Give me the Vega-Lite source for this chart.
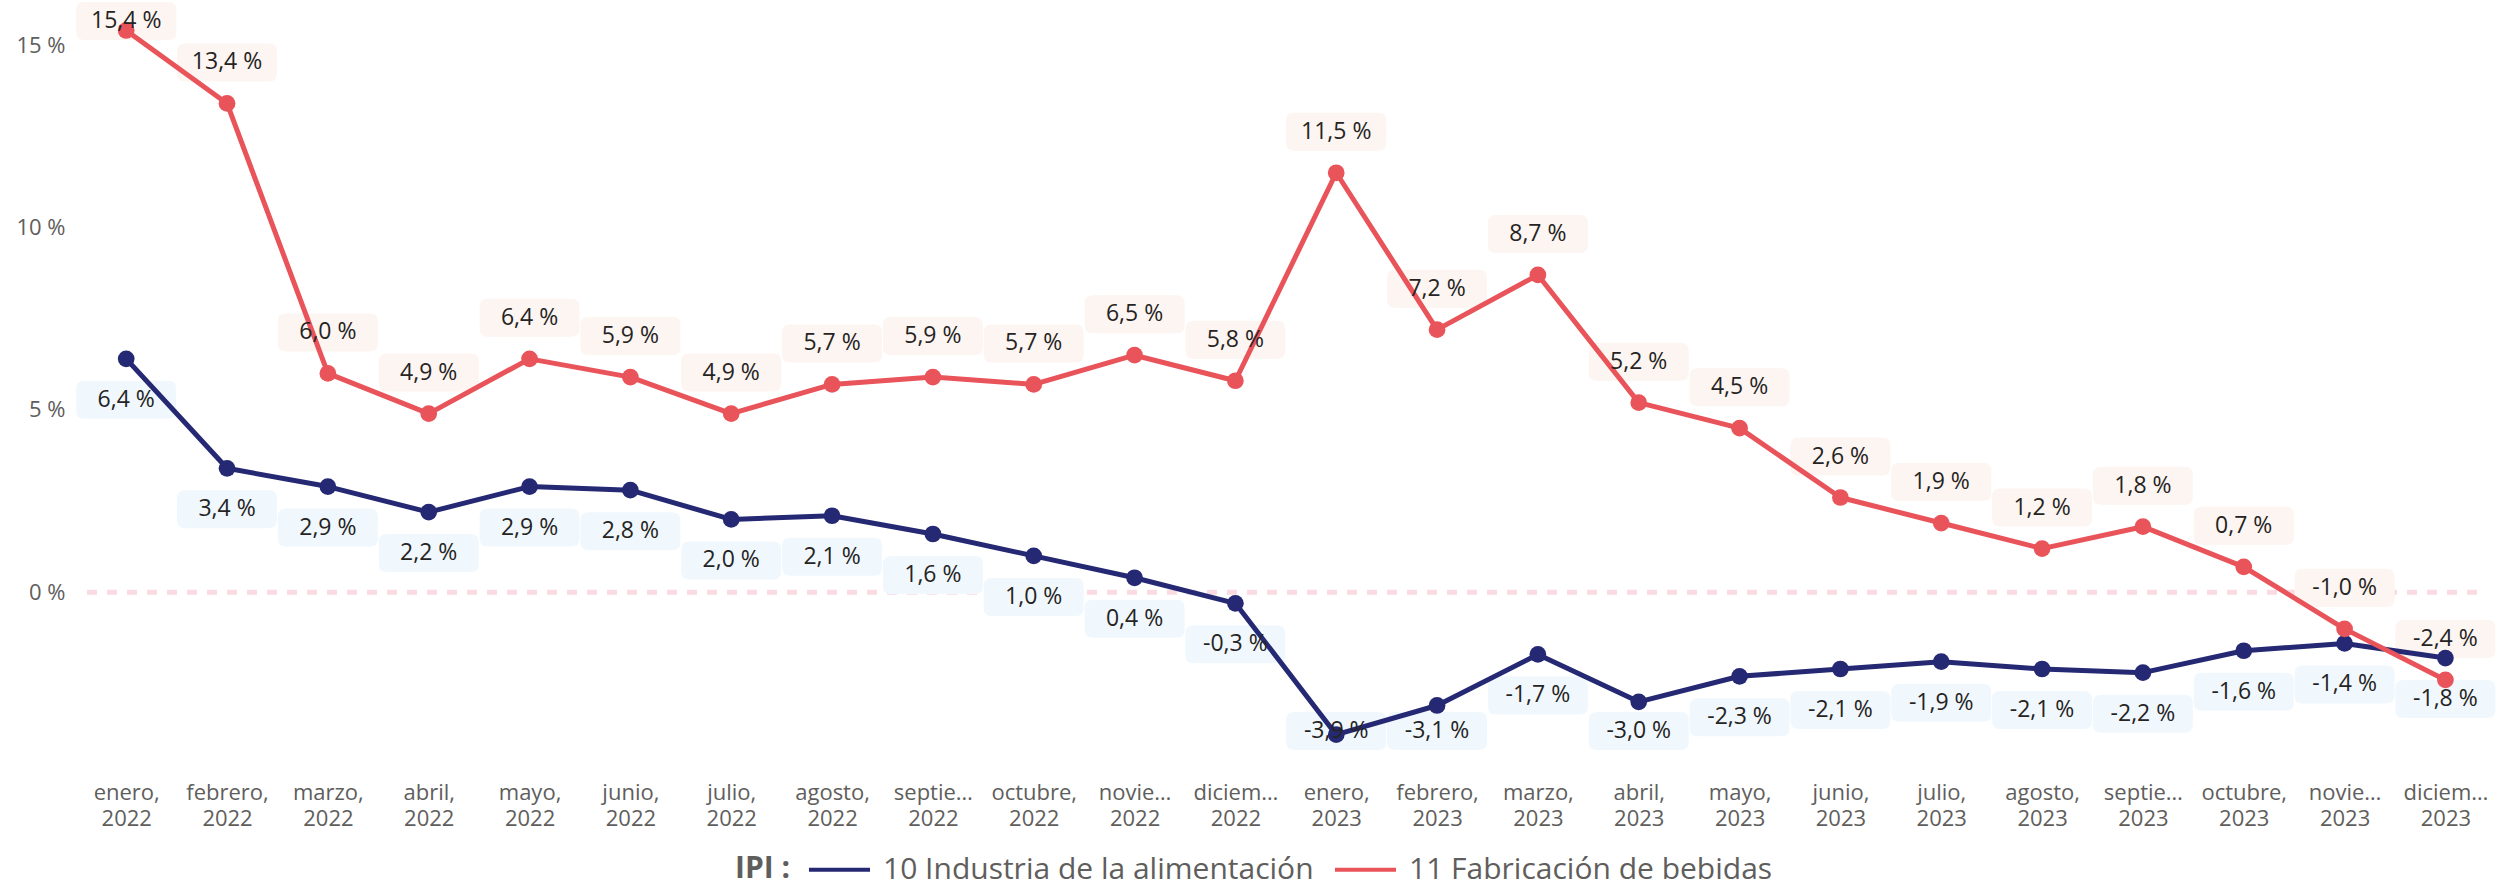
{
  "$schema": "https://vega.github.io/schema/vega-lite/v6.json",
  "width": 2391,
  "height": 748,
  "autosize": {"type": "none"},
  "padding": {"left": 86, "top": 2, "right": 42, "bottom": 137},
  "background": "white",
  "config": {
    "view": {"stroke": null},
    "font": "Open Sans",
    "locale": {"number": {"decimal": ",", "thousands": ".", "grouping": [3], "currency": ["", " €"], "percent": " %", "minus": "-"}}
  },
  "datasets": {
    "ipi": [
      {"mes": "enero, 2022", "serie": "10 Industria de la alimentación", "valor": 0.064},
      {"mes": "febrero, 2022", "serie": "10 Industria de la alimentación", "valor": 0.034},
      {"mes": "marzo, 2022", "serie": "10 Industria de la alimentación", "valor": 0.029},
      {"mes": "abril, 2022", "serie": "10 Industria de la alimentación", "valor": 0.022},
      {"mes": "mayo, 2022", "serie": "10 Industria de la alimentación", "valor": 0.029},
      {"mes": "junio, 2022", "serie": "10 Industria de la alimentación", "valor": 0.028},
      {"mes": "julio, 2022", "serie": "10 Industria de la alimentación", "valor": 0.020},
      {"mes": "agosto, 2022", "serie": "10 Industria de la alimentación", "valor": 0.021},
      {"mes": "septiembre, 2022", "serie": "10 Industria de la alimentación", "valor": 0.016},
      {"mes": "octubre, 2022", "serie": "10 Industria de la alimentación", "valor": 0.010},
      {"mes": "noviembre, 2022", "serie": "10 Industria de la alimentación", "valor": 0.004},
      {"mes": "diciembre, 2022", "serie": "10 Industria de la alimentación", "valor": -0.003},
      {"mes": "enero, 2023", "serie": "10 Industria de la alimentación", "valor": -0.039},
      {"mes": "febrero, 2023", "serie": "10 Industria de la alimentación", "valor": -0.031},
      {"mes": "marzo, 2023", "serie": "10 Industria de la alimentación", "valor": -0.017},
      {"mes": "abril, 2023", "serie": "10 Industria de la alimentación", "valor": -0.030},
      {"mes": "mayo, 2023", "serie": "10 Industria de la alimentación", "valor": -0.023},
      {"mes": "junio, 2023", "serie": "10 Industria de la alimentación", "valor": -0.021},
      {"mes": "julio, 2023", "serie": "10 Industria de la alimentación", "valor": -0.019},
      {"mes": "agosto, 2023", "serie": "10 Industria de la alimentación", "valor": -0.021},
      {"mes": "septiembre, 2023", "serie": "10 Industria de la alimentación", "valor": -0.022},
      {"mes": "octubre, 2023", "serie": "10 Industria de la alimentación", "valor": -0.016},
      {"mes": "noviembre, 2023", "serie": "10 Industria de la alimentación", "valor": -0.014},
      {"mes": "diciembre, 2023", "serie": "10 Industria de la alimentación", "valor": -0.018},
      {"mes": "enero, 2022", "serie": "11 Fabricación de bebidas", "valor": 0.154},
      {"mes": "febrero, 2022", "serie": "11 Fabricación de bebidas", "valor": 0.134},
      {"mes": "marzo, 2022", "serie": "11 Fabricación de bebidas", "valor": 0.060},
      {"mes": "abril, 2022", "serie": "11 Fabricación de bebidas", "valor": 0.049},
      {"mes": "mayo, 2022", "serie": "11 Fabricación de bebidas", "valor": 0.064},
      {"mes": "junio, 2022", "serie": "11 Fabricación de bebidas", "valor": 0.059},
      {"mes": "julio, 2022", "serie": "11 Fabricación de bebidas", "valor": 0.049},
      {"mes": "agosto, 2022", "serie": "11 Fabricación de bebidas", "valor": 0.057},
      {"mes": "septiembre, 2022", "serie": "11 Fabricación de bebidas", "valor": 0.059},
      {"mes": "octubre, 2022", "serie": "11 Fabricación de bebidas", "valor": 0.057},
      {"mes": "noviembre, 2022", "serie": "11 Fabricación de bebidas", "valor": 0.065},
      {"mes": "diciembre, 2022", "serie": "11 Fabricación de bebidas", "valor": 0.058},
      {"mes": "enero, 2023", "serie": "11 Fabricación de bebidas", "valor": 0.115},
      {"mes": "febrero, 2023", "serie": "11 Fabricación de bebidas", "valor": 0.072},
      {"mes": "marzo, 2023", "serie": "11 Fabricación de bebidas", "valor": 0.087},
      {"mes": "abril, 2023", "serie": "11 Fabricación de bebidas", "valor": 0.052},
      {"mes": "mayo, 2023", "serie": "11 Fabricación de bebidas", "valor": 0.045},
      {"mes": "junio, 2023", "serie": "11 Fabricación de bebidas", "valor": 0.026},
      {"mes": "julio, 2023", "serie": "11 Fabricación de bebidas", "valor": 0.019},
      {"mes": "agosto, 2023", "serie": "11 Fabricación de bebidas", "valor": 0.012},
      {"mes": "septiembre, 2023", "serie": "11 Fabricación de bebidas", "valor": 0.018},
      {"mes": "octubre, 2023", "serie": "11 Fabricación de bebidas", "valor": 0.007},
      {"mes": "noviembre, 2023", "serie": "11 Fabricación de bebidas", "valor": -0.010},
      {"mes": "diciembre, 2023", "serie": "11 Fabricación de bebidas", "valor": -0.024}
    ]
  },
  "layer": [
    {
      "data": {"values": [{"ref": 0}]},
      "mark": {"type": "rule", "color": "#F7C3CE", "strokeWidth": 5, "strokeDash": [10, 10], "opacity": 0.6},
      "encoding": {"y": {"datum": 0, "type": "quantitative"}}
    },
    {
      "data": {"name": "ipi"},
      "encoding": {
        "x": {
          "field": "mes",
          "type": "nominal",
          "scale": {
            "type": "point",
            "padding": 0.356,
            "align": 0.56,
            "domain": ["enero, 2022", "febrero, 2022", "marzo, 2022", "abril, 2022", "mayo, 2022", "junio, 2022", "julio, 2022", "agosto, 2022", "septiembre, 2022", "octubre, 2022", "noviembre, 2022", "diciembre, 2022", "enero, 2023", "febrero, 2023", "marzo, 2023", "abril, 2023", "mayo, 2023", "junio, 2023", "julio, 2023", "agosto, 2023", "septiembre, 2023", "octubre, 2023", "noviembre, 2023", "diciembre, 2023"]
          },
          "axis": {
            "title": null,
            "domain": false,
            "ticks": false,
            "tickSize": 0,
            "grid": false,
            "labelAngle": 0,
            "labelExpr": "split(datum.label, ' ')",
            "labelFontSize": 22,
            "labelColor": "#605E5C",
            "labelLimit": 90,
            "labelLineHeight": 26,
            "labelPadding": 32
          }
        },
        "y": {
          "field": "valor",
          "type": "quantitative",
          "scale": {"domain": [-0.0432, 0.1618], "nice": false, "zero": false},
          "axis": {
            "title": null,
            "values": [0, 0.05, 0.1, 0.15],
            "format": ".0%",
            "domain": false,
            "ticks": false,
            "tickSize": 0,
            "labelPadding": 21,
            "labelFontSize": 22,
            "labelColor": "#605E5C",
            "gridColor": "#C8C6C4",
            "gridDash": [2.5, 9.8],
            "gridWidth": 2
          }
        }
      },
      "layer": [
        {
          "transform": [{"filter": "datum.serie === '11 Fabricación de bebidas' && datum.valor < 0.15"}],
          "mark": {"type": "point", "shape": "M-0.84,-0.38L0.84,-0.38Q1,-0.38,1,-0.22L1,0.22Q1,0.38,0.84,0.38L-0.84,0.38Q-1,0.38,-1,0.22L-1,-0.22Q-1,-0.38,-0.84,-0.38Z", "size": 10000, "filled": true, "fill": "#FDF5F1", "opacity": 1, "strokeWidth": 0, "yOffset": -41}
        },
        {
          "transform": [{"filter": "datum.serie === '11 Fabricación de bebidas' && datum.valor >= 0.15"}],
          "mark": {"type": "point", "shape": "M-0.84,-0.38L0.84,-0.38Q1,-0.38,1,-0.22L1,0.22Q1,0.38,0.84,0.38L-0.84,0.38Q-1,0.38,-1,0.22L-1,-0.22Q-1,-0.38,-0.84,-0.38Z", "size": 10000, "filled": true, "fill": "#FDF5F1", "opacity": 1, "strokeWidth": 0},
          "encoding": {"y": {"datum": 0.1566, "type": "quantitative"}}
        },
        {
          "transform": [{"filter": "datum.serie === '10 Industria de la alimentación' && datum.valor > -0.0295"}],
          "mark": {"type": "point", "shape": "M-0.84,-0.38L0.84,-0.38Q1,-0.38,1,-0.22L1,0.22Q1,0.38,0.84,0.38L-0.84,0.38Q-1,0.38,-1,0.22L-1,-0.22Q-1,-0.38,-0.84,-0.38Z", "size": 10000, "filled": true, "fill": "#F1F8FD", "opacity": 1, "strokeWidth": 0, "yOffset": 41}
        },
        {
          "transform": [{"filter": "datum.serie === '10 Industria de la alimentación' && datum.valor <= -0.0295"}],
          "mark": {"type": "point", "shape": "M-0.84,-0.38L0.84,-0.38Q1,-0.38,1,-0.22L1,0.22Q1,0.38,0.84,0.38L-0.84,0.38Q-1,0.38,-1,0.22L-1,-0.22Q-1,-0.38,-0.84,-0.38Z", "size": 10000, "filled": true, "fill": "#F1F8FD", "opacity": 1, "strokeWidth": 0},
          "encoding": {"y": {"datum": -0.038, "type": "quantitative"}}
        },
        {
          "mark": {"type": "line", "strokeWidth": 5, "strokeJoin": "round", "point": {"filled": true, "size": 280, "opacity": 1}},
          "encoding": {
            "color": {
              "field": "serie",
              "type": "nominal",
              "scale": {"domain": ["10 Industria de la alimentación", "11 Fabricación de bebidas"], "range": ["#252872", "#E9535A"]},
              "legend": {
                "orient": "none",
                "legendX": 649,
                "legendY": 835,
                "direction": "horizontal",
                "title": "IPI :",
                "titleOrient": "left",
                "titleBaseline": "line-top",
                "titleLineHeight": 17,
                "titleFontSize": 30,
                "titleFontWeight": "bold",
                "titleColor": "#605E5C",
                "titlePadding": 16,
                "labelFontSize": 30,
                "labelColor": "#605E5C",
                "labelOffset": 11,
                "labelLimit": 700,
                "symbolType": "stroke",
                "symbolSize": 3721,
                "symbolStrokeWidth": 4,
                "columnPadding": 13,
                "padding": 0
              }
            }
          }
        },
        {
          "transform": [{"filter": "datum.serie === '11 Fabricación de bebidas' && datum.valor < 0.15"}],
          "mark": {"type": "text", "fontSize": 23, "color": "#252423", "baseline": "middle", "yOffset": -41},
          "encoding": {"text": {"field": "valor", "type": "quantitative", "format": ".1%"}}
        },
        {
          "transform": [{"filter": "datum.serie === '11 Fabricación de bebidas' && datum.valor >= 0.15"}],
          "mark": {"type": "text", "fontSize": 23, "color": "#252423", "baseline": "middle"},
          "encoding": {"y": {"datum": 0.1566, "type": "quantitative"}, "text": {"field": "valor", "type": "quantitative", "format": ".1%"}}
        },
        {
          "transform": [{"filter": "datum.serie === '10 Industria de la alimentación' && datum.valor > -0.0295"}],
          "mark": {"type": "text", "fontSize": 23, "color": "#252423", "baseline": "middle", "yOffset": 41},
          "encoding": {"text": {"field": "valor", "type": "quantitative", "format": ".1%"}}
        },
        {
          "transform": [{"filter": "datum.serie === '10 Industria de la alimentación' && datum.valor <= -0.0295"}],
          "mark": {"type": "text", "fontSize": 23, "color": "#252423", "baseline": "middle"},
          "encoding": {"y": {"datum": -0.038, "type": "quantitative"}, "text": {"field": "valor", "type": "quantitative", "format": ".1%"}}
        }
      ]
    }
  ]
}
